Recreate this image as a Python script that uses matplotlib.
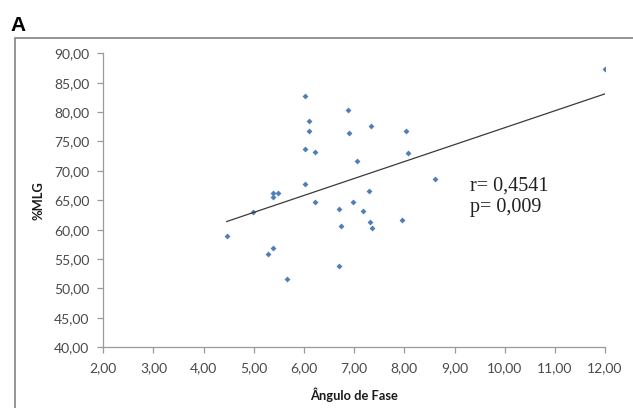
import numpy as np
import matplotlib.pyplot as plt
from matplotlib.patches import Rectangle

# Ângulo de Fase vs %MLG
angulo_fase = [4.46, 4.98, 5.28, 5.38, 5.38, 5.49, 5.39, 5.66,
               6.02, 6.09, 6.09, 6.02, 6.21, 6.03, 6.21, 6.88,
               6.90, 7.34, 7.06, 7.30, 6.70, 6.97, 7.17, 6.74,
               7.31, 7.36, 6.70, 7.96, 8.03, 8.08, 8.61, 12.00]
mlg = [59.0, 63.0, 55.9, 56.9, 66.2, 66.2, 65.5, 51.6,
       82.8, 78.4, 76.8, 73.7, 73.2, 67.7, 64.7, 80.4,
       76.4, 77.6, 71.6, 66.6, 63.6, 64.7, 63.2, 60.6,
       61.3, 60.3, 53.9, 61.6, 76.8, 73.0, 68.7, 87.3]

x_ticks = np.arange(2, 13, 1)
y_ticks = np.arange(40, 91, 5)
r_text = 'r= 0,4541'
p_text = 'p= 0,009'

fig = plt.figure(figsize=(6.33, 4.08), dpi=100)
ax = fig.add_axes([0.1632, 0.1488, 0.7926, 0.7206])

# outer frame of the chart area
fig.patches.append(Rectangle((0.0237, -0.1), 1.2, 1.0069, transform=fig.transFigure,
                             fill=False, edgecolor='#8c8c8c', linewidth=1.3))
fig.text(0.016, 0.924, 'A', fontsize=15, fontweight='bold', family='Liberation Sans')

x = np.array(angulo_fase)
y = np.array(mlg)
ax.plot(x, y, linestyle='none', marker='D', markersize=3.0,
        color='#4f7fb8', markeredgewidth=0)

slope, inter = np.polyfit(x, y, 1)
xl = np.array([x.min(), x.max()])
ax.plot(xl, inter + slope * xl, color='#3a3a3a', linewidth=0.9)

ax.set_xlim(2, 12)
ax.set_ylim(40, 90)
ax.set_xticks(x_ticks)
ax.set_yticks(y_ticks)
ax.set_xticklabels([f'{v:.2f}'.replace('.', ',') for v in x_ticks])
ax.set_yticklabels([f'{v:.2f}'.replace('.', ',') for v in y_ticks])

for s in ['top', 'right']:
    ax.spines[s].set_visible(False)
for s in ['left', 'bottom']:
    ax.spines[s].set_color('#9a9a9a')
    ax.spines[s].set_linewidth(0.9)
ax.tick_params(axis='both', colors='#9a9a9a', length=4, width=0.9,
               labelcolor='#4a4a4a', labelsize=10)
ax.tick_params(axis='y', pad=6)
ax.tick_params(axis='x', pad=7)
for lab in ax.get_xticklabels() + ax.get_yticklabels():
    lab.set_family('Lato')

ax.set_xlabel('Ângulo de Fase', fontsize=9.3, fontweight='bold', family='Lato',
              color='#1a1a1a', labelpad=9)
ax.set_ylabel('%MLG', fontsize=9.3, fontweight='bold', family='Lato',
              color='#1a1a1a', labelpad=7)

ax.text(9.31, 66.6, r_text, fontsize=14.5, family='Liberation Serif', color='#222222')
ax.text(9.31, 63.0, p_text, fontsize=14.5, family='Liberation Serif', color='#222222')

fig.savefig('out.png', dpi=100, facecolor='white')
